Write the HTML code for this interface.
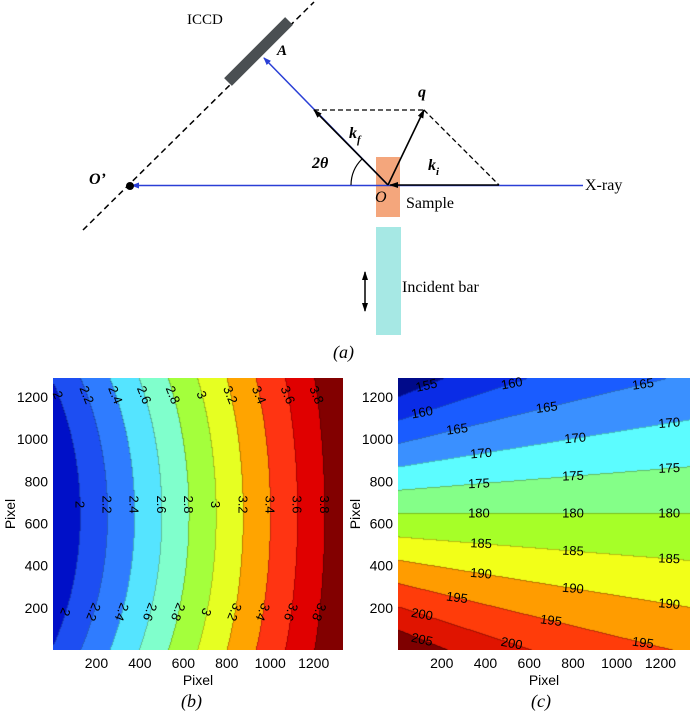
<!DOCTYPE html>
<html><head><meta charset="utf-8">
<style>
html,body{margin:0;padding:0;background:#fff;}
#root{position:relative;width:693px;height:725px;overflow:hidden;font-family:"Liberation Sans",sans-serif;}
canvas{position:absolute;}
svg{position:absolute;left:0;top:0;}
</style></head>
<body>
<div id="root">
<svg width="693" height="725">
 <defs>
  <marker id="ab" markerWidth="8" markerHeight="8" refX="7" refY="4" orient="auto" markerUnits="userSpaceOnUse"><path d="M0,1 L8,4 L0,7 z" fill="#2a3fd6"/></marker>
  <marker id="ak" markerWidth="9" markerHeight="8" refX="8" refY="4" orient="auto" markerUnits="userSpaceOnUse"><path d="M0,1 L9,4 L0,7 z" fill="#000"/></marker>
  <marker id="as" markerWidth="9" markerHeight="8" refX="1" refY="4" orient="auto" markerUnits="userSpaceOnUse"><path d="M9,1 L0,4 L9,7 z" fill="#000"/></marker>
 </defs>
 <line x1="83" y1="230" x2="314" y2="2" stroke="#000" stroke-width="1.5" stroke-dasharray="6,4"/>
 <line x1="228" y1="82" x2="289" y2="21" stroke="#4a4f52" stroke-width="11"/>
 <text x="187" y="24" font-family="Liberation Serif" font-size="15">ICCD</text>
 <text x="277" y="55" font-family="Liberation Serif" font-size="15" font-style="italic" font-weight="bold">A</text>
 <rect x="376" y="157" width="24" height="60" fill="#f4a67c"/>
 <rect x="376" y="227" width="25" height="108" fill="#a6e8e4"/>
 <line x1="583" y1="185.5" x2="132" y2="185.5" stroke="#2a3fd6" stroke-width="1.5" marker-end="url(#ab)"/>
 <line x1="388" y1="185" x2="264" y2="58" stroke="#2a3fd6" stroke-width="1.5" marker-end="url(#ab)"/>
 <line x1="388" y1="185" x2="314" y2="110" stroke="#000" stroke-width="1.6" marker-end="url(#ak)"/>
 <line x1="388" y1="185" x2="424" y2="110" stroke="#000" stroke-width="1.6" marker-end="url(#ak)"/>
 <line x1="499" y1="185" x2="390" y2="185" stroke="#000" stroke-width="1.6" marker-end="url(#ak)"/>
 <line x1="314" y1="110" x2="424" y2="110" stroke="#000" stroke-width="1.3" stroke-dasharray="5,3"/>
 <line x1="424" y1="110" x2="499" y2="185" stroke="#000" stroke-width="1.3" stroke-dasharray="5,3"/>
 <path d="M351,185 A37,37 0 0 1 362,159" fill="none" stroke="#000" stroke-width="1.2"/>
 <circle cx="130" cy="186" r="4" fill="#000"/>
 <text x="89" y="184" font-family="Liberation Serif" font-size="16" font-style="italic" font-weight="bold">O’</text>
 <text x="312" y="168" font-family="Liberation Serif" font-size="16" font-style="italic" font-weight="bold">2θ</text>
 <text x="349" y="138" font-family="Liberation Serif" font-size="16" font-style="italic" font-weight="bold">k<tspan font-size="11" dy="5">f</tspan></text>
 <text x="428" y="170" font-family="Liberation Serif" font-size="16" font-style="italic" font-weight="bold">k<tspan font-size="11" dy="5">i</tspan></text>
 <text x="418" y="97" font-family="Liberation Serif" font-size="16" font-style="italic" font-weight="bold">q</text>
 <text x="375" y="202" font-family="Liberation Serif" font-size="16" font-style="italic">O</text>
 <text x="406" y="208" font-family="Liberation Serif" font-size="16">Sample</text>
 <text x="585" y="190" font-family="Liberation Serif" font-size="16">X-ray</text>
 <line x1="365" y1="272" x2="365" y2="311" stroke="#000" stroke-width="1.5" marker-start="url(#as)" marker-end="url(#ak)"/>
 <text x="402" y="292" font-family="Liberation Serif" font-size="16">Incident bar</text>
 <text x="333" y="358" font-family="Liberation Serif" font-size="18" font-style="italic">(<tspan>a</tspan>)</text>
 <text x="181" y="707" font-family="Liberation Serif" font-size="18" font-style="italic">(b)</text>
 <text x="531" y="707" font-family="Liberation Serif" font-size="18" font-style="italic">(c)</text>
 <g id="gb"></g>
 <g id="gc"></g>
</svg>
<canvas id="cb" width="290" height="272" style="left:53px;top:378px"></canvas>
<canvas id="cc" width="292" height="272" style="left:398px;top:378px"></canvas>
</div>
<script>
// ---- data ----
const xTicks = [200, 400, 600, 800, 1000, 1200];
const yTicks = [200, 400, 600, 800, 1000, 1200];
const bLevels = [2, 2.2, 2.4, 2.6, 2.8, 3, 3.2, 3.4, 3.6, 3.8];
const bColors = ['#0010c8','#1d4ef2','#2f7cff','#55e4ff','#80ffcc','#a4ff3c','#e6ff22','#ffa400','#ff3412','#e00000','#820000'];
const bLabelRows = [1210, 690, 180];
const bLabelRot = [68, 90, 112];
const cLevels = [155, 160, 165, 170, 175, 180, 185, 190, 195, 200, 205];
const cColors = ['#000a8a','#0a2ce6','#1a5cff','#3a90ff','#5cfcff','#84ff88','#a6ff28','#f2ff18','#ff9c00','#ff3c0a','#e01400','#7e0000'];
const cLabelLevels = [155,160,165,160,165,165,170,170,170,175,175,175,180,180,180,185,185,185,190,190,190,195,195,195,200,200,205];
const cLabelX = [130,520,1120,110,680,270,1240,810,380,1240,800,370,370,800,1240,380,800,1240,380,800,1240,270,700,1120,110,520,110];

const XD = [0, 1335], YD = [0, 1290];
function fb(x, y){ const s = 122 - (x-124)*0.0706; const d = (y-645)/640; return 2 + (x - 124 + s*d*d)/625; }
function fc(x, y){ const k = 22.1 + 22.4*x/1335; return 180 - (y-649)/k; }
function band(v, lv){ let i=0; while(i<lv.length && v>=lv[i]) i++; return i; }
function hex(c){ return [parseInt(c.substr(1,2),16),parseInt(c.substr(3,2),16),parseInt(c.substr(5,2),16)]; }

function drawContour(id, f, lv, cols){
  const cv = document.getElementById(id), ctx = cv.getContext('2d');
  const W = cv.width, H = cv.height, img = ctx.createImageData(W,H);
  const rgb = cols.map(hex);
  const B = [];
  for(let j=0;j<H;j++){ B.push([]); for(let i=0;i<W;i++){
    const x = XD[0] + (i+0.5)/W*(XD[1]-XD[0]); const y = YD[1] - (j+0.5)/H*(YD[1]-YD[0]);
    B[j].push(band(f(x,y), lv)); } }
  for(let j=0;j<H;j++) for(let i=0;i<W;i++){
    const b = B[j][i]; let c = rgb[b].slice();
    if((i>0 && B[j][i-1]!==b) || (j>0 && B[j-1][i]!==b)) c = c.map(v=>v*0.75);
    const p = (j*W+i)*4; img.data[p]=c[0]; img.data[p+1]=c[1]; img.data[p+2]=c[2]; img.data[p+3]=255;
  }
  ctx.putImageData(img,0,0);
}
drawContour('cb', fb, bLevels, bColors);
drawContour('cc', fc, cLevels, cColors);

const NS = 'http://www.w3.org/2000/svg';
function txt(g, x, y, s, opts){
  const t = document.createElementNS(NS,'text');
  t.setAttribute('x', x); t.setAttribute('y', y);
  t.setAttribute('font-family','Liberation Sans, sans-serif');
  t.setAttribute('font-size', opts.size||14);
  if(opts.anchor) t.setAttribute('text-anchor', opts.anchor);
  if(opts.rot!==undefined) t.setAttribute('transform','rotate('+opts.rot+' '+x+' '+y+')');
  if(opts.baseline) t.setAttribute('dominant-baseline', opts.baseline);
  t.textContent = s; g.appendChild(t); return t;
}
function axes(gid, L, R, T, Bt){
  const g = document.getElementById(gid);
  const sx = x => L + (x-XD[0])/(XD[1]-XD[0])*(R-L);
  const sy = y => Bt - (y-YD[0])/(YD[1]-YD[0])*(Bt-T);
  xTicks.forEach(v=>{ const t = txt(g, sx(v), 668, String(v), {anchor:'middle'});
      });
  yTicks.forEach(v=>{ const t = txt(g, L-5, sy(v)+5, String(v), {anchor:'end'});
      });
  const xt = txt(g, (L+R)/2, 685, 'Pixel', {anchor:'middle'});
  
  
  const yt = txt(g, L-38, (T+Bt)/2, 'Pixel', {anchor:'middle', rot:-90});
  
  
  return {g, sx, sy};
}
// chart b
(function(){
  const a = axes('gb', 53, 343, 378, 650);
  bLabelRows.forEach((yr, r)=>{
    bLevels.forEach(L=>{
      let lo=-200, hi=1600;
      for(let k=0;k<40;k++){ const m=(lo+hi)/2; if(fb(m,yr)<L) lo=m; else hi=m; }
      const px = a.sx(lo), py = a.sy(yr);
      if(px < 50 || px > 345) return;
      const t = txt(a.g, px, py, String(L), {anchor:'middle', baseline:'central', rot:bLabelRot[r], size:13});
      
      
    });
  });
})();
// chart c
(function(){
  const a = axes('gc', 398, 690, 378, 650);
  cLabelLevels.forEach((L, i)=>{
    const x = cLabelX[i];
    const k = 22.1 + 22.4*x/1335; const y = 649 - (L-180)*k;
    const px = a.sx(x), py = a.sy(y);
    const t = txt(a.g, px, py, String(L), {anchor:'middle', baseline:'central', rot:(L-180)*0.5, size:13});
    
    
  });
})();
const svg = document.querySelector('svg'); svg.style.zIndex = 2;
</script>
</body></html>
